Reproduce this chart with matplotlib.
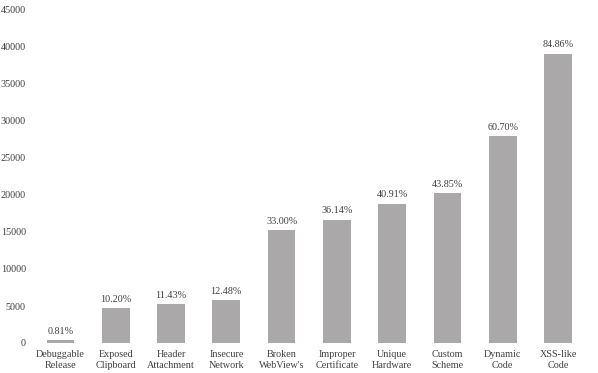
import matplotlib
matplotlib.use("Agg")
import matplotlib.pyplot as plt

categories = ["Debuggable\nRelease", "Exposed\nClipboard", "Header\nAttachment", "Insecure\nNetwork",
              "Broken\nWebView's", "Improper\nCertificate", "Unique\nHardware", "Custom\nScheme",
              "Dynamic\nCode", "XSS-like\nCode"]
values = [373, 4700, 5267, 5750, 15205, 16652, 18850, 20204, 27968, 39100]
pct_labels = ["0.81%", "10.20%", "11.43%", "12.48%", "33.00%", "36.14%", "40.91%", "43.85%", "60.70%", "84.86%"]
yticks = [0, 5000, 10000, 15000, 20000, 25000, 30000, 35000, 40000, 45000]

plt.rcParams['font.family'] = ['Liberation Serif', 'DejaVu Serif']
text_color = "#404040"
bar_color = "#ABA8A9"

fig = plt.figure(figsize=(5.98, 3.73), dpi=100)
ax = fig.add_axes([30/598, 1-343/373, (594-30)/598, (343-10)/373])
x = list(range(len(categories)))
bars = ax.bar(x, values, width=0.5, color=bar_color)
for xi, v, lab in zip(x, values, pct_labels):
    ax.text(xi, v + 600, lab, ha="center", va="bottom", fontsize=7.3, color=text_color)

ax.set_xlim(-0.55, 9.65)
ax.set_ylim(0, 45000)
ax.set_yticks(yticks)
ax.set_yticklabels([str(t) for t in yticks], fontsize=7.3, color=text_color)
ax.set_xticks(x)
ax.set_xticklabels(categories, fontsize=7.3, color=text_color, linespacing=1.3)
ax.tick_params(axis="both", length=0, pad=3)
ax.tick_params(axis="x", pad=5)
for s in ax.spines.values():
    s.set_visible(False)

fig.savefig("out.png", dpi=100)
